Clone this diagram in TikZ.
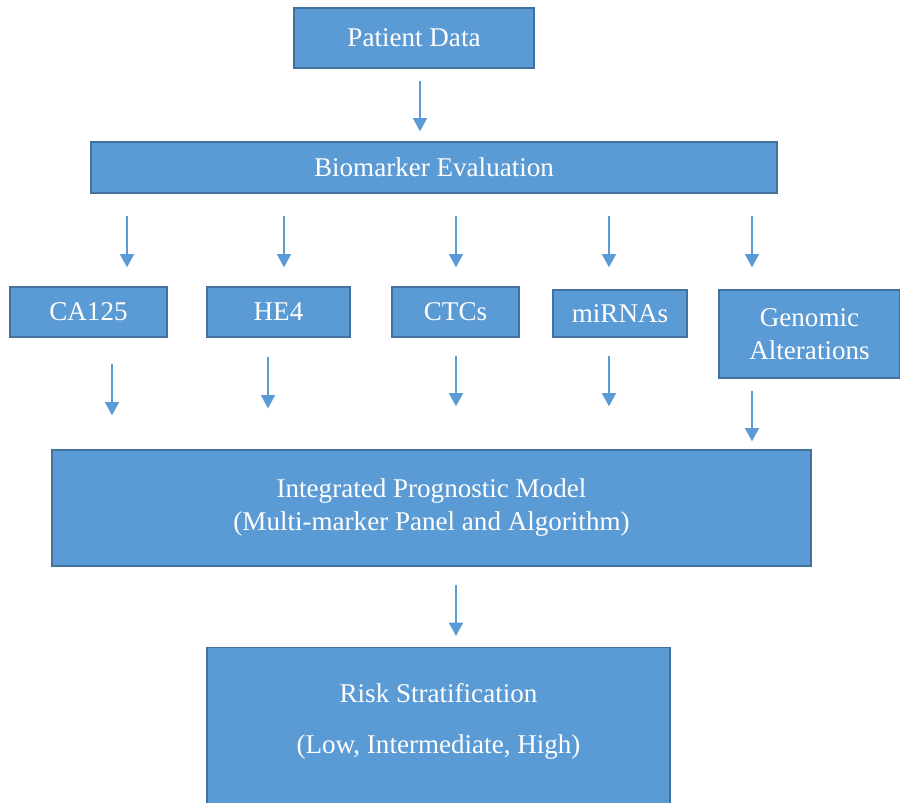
\documentclass[tikz,border=0pt]{standalone}
\usepackage{fontspec}
\setmainfont{Liberation Serif}
\usetikzlibrary{arrows.meta}
\definecolor{boxblue}{HTML}{5B9BD5}
\definecolor{edgeblue}{HTML}{41719C}

\begin{document}
\begin{tikzpicture}[x = 0.75pt, y = 0.75pt,
    box/.style = {draw = edgeblue, fill = boxblue, line width = 1pt, text = white,
                  font = \fontsize{20.3}{24.75}\selectfont, align = center, inner sep = 0pt},
    arr/.style = {draw = boxblue, line width = 1.5pt, -{Triangle[length = 10pt, width = 10.5pt]}}]
    \useasboundingbox (0,0) rectangle (900,-803);

    \node[box, minimum width = 180pt, minimum height = 45pt] (pat) at (414,-38) {Patient Data};
    \node[box, minimum width = 514.5pt, minimum height = 38.25pt] (bio) at (434,-167.5) {Biomarker Evaluation};

    % biomarkers
    \node[box, minimum width = 117.75pt, minimum height = 37.5pt] (ca) at (88.5,-312) {CA125};
    \node[box, minimum width = 107.25pt, minimum height = 37.5pt] (he) at (278.5,-312) {HE4};
    \node[box, minimum width = 95.25pt, minimum height = 37.5pt] (ctc) at (455.5,-312) {CTCs};
    \node[box, minimum width = 100.5pt, minimum height = 35.25pt] (mir) at (620,-313.5) {miRNAs};
    \node[box, minimum width = 135.75pt, minimum height = 66pt] (gen) at (809.5,-334) {Genomic\\Alterations};

    \node[box, minimum width = 569.25pt, minimum height = 87pt] (model) at (431.5,-508)
        {Integrated Prognostic Model\\(Multi-marker Panel and Algorithm)};
    \node[box, minimum width = 347.25pt, inner ysep = 27pt, anchor = north] (risk) at (438.5,-647)
        {Risk Stratification\\[13.5pt](Low, Intermediate, High)\\[10pt]\mbox{}};

    \draw[arr, shorten < = 9pt, shorten > = 7.5pt] (pat.south -| 420,0) -- (bio.north -| 420,0);
    \foreach \n/\x/\s in {ca/127/14.25pt, he/284/14.25pt, ctc/456/14.25pt, mir/609/16.5pt, gen/752/16.5pt}
        \draw[arr, shorten < = 16.5pt, shorten > = \s] (bio.south -| \x,0) -- (\n.north -| \x,0);
    \foreach \n/\x/\s/\e in {ca/112/19.5pt/25.5pt, he/268/14.25pt/30.75pt, ctc/456/13.5pt/32.25pt,
                             mir/609/13.5pt/32.25pt, gen/752/9pt/6pt}
        \draw[arr, shorten < = \s, shorten > = \e] (\n.south -| \x,0) -- (model.north -| \x,0);
    \draw[arr, shorten < = 13.5pt, shorten > = 8.25pt] (model.south -| 456,0) -- (risk.north -| 456,0);
\end{tikzpicture}
\end{document}
